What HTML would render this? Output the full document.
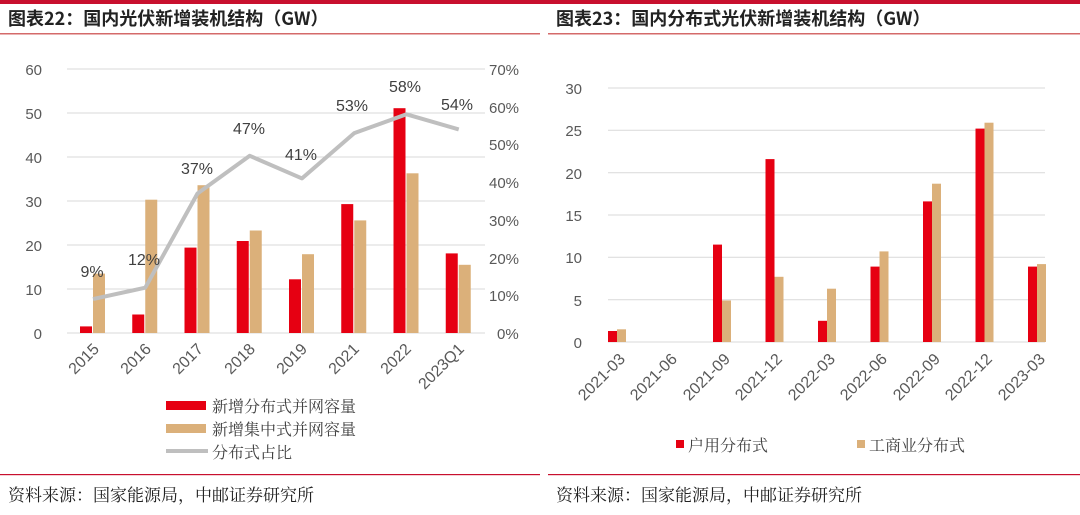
<!DOCTYPE html><html><head><meta charset="utf-8"><style>
body{margin:0;background:#fff;}
svg{display:block;font-family:"Liberation Sans","Noto Sans CJK SC",sans-serif;}
.cn{font-family:"Noto Serif CJK SC","Noto Sans CJK SC",serif;}
</style></head><body>
<svg width="1080" height="515" viewBox="0 0 1080 515">
<rect x="0" y="0" width="1080" height="4" fill="#c8102e"/>
<text x="8" y="25" font-size="18" font-weight="bold" fill="#222" font-family="'Noto Sans CJK SC',sans-serif">图表22：国内光伏新增装机结构（GW）</text>
<text x="556" y="25" font-size="18" font-weight="bold" fill="#222" font-family="'Noto Sans CJK SC',sans-serif">图表23：国内分布式光伏新增装机结构（GW）</text>
<rect x="0" y="33" width="540" height="1.5" fill="#d46a6a"/>
<rect x="548" y="33" width="532" height="1.5" fill="#d46a6a"/>
<rect x="0" y="474" width="540" height="1.2" fill="#c8102e"/>
<rect x="548" y="474" width="532" height="1.2" fill="#c8102e"/>
<text x="8" y="501" font-size="17" fill="#222" class="cn">资料来源：国家能源局，中邮证券研究所</text>
<text x="556" y="501" font-size="17" fill="#222" class="cn">资料来源：国家能源局，中邮证券研究所</text>

<g stroke="#d9d9d9" stroke-width="1">
<line x1="67" x2="485" y1="69" y2="69"/><line x1="67" x2="485" y1="113" y2="113"/><line x1="67" x2="485" y1="157" y2="157"/><line x1="67" x2="485" y1="201" y2="201"/><line x1="67" x2="485" y1="245" y2="245"/><line x1="67" x2="485" y1="289" y2="289"/><line x1="67" x2="485" y1="333" y2="333"/>
</g>
<g font-size="15" fill="#595959" text-anchor="end">
<text x="42" y="75">60</text><text x="42" y="119">50</text><text x="42" y="163">40</text><text x="42" y="207">30</text><text x="42" y="251">20</text><text x="42" y="295">10</text><text x="42" y="339">0</text>
</g>
<g font-size="15" fill="#595959">
<text x="489" y="75">70%</text><text x="489" y="113">60%</text><text x="489" y="150">50%</text><text x="489" y="188">40%</text><text x="489" y="226">30%</text><text x="489" y="264">20%</text><text x="489" y="301">10%</text><text x="497" y="339">0%</text>
</g>
<g fill="#e60012">
<rect x="80" y="326.4" width="12" height="6.6"/>
<rect x="132.25" y="314.5" width="12" height="18.5"/>
<rect x="184.5" y="247.6" width="12" height="85.4"/>
<rect x="236.75" y="241" width="12" height="92"/>
<rect x="289" y="279.3" width="12" height="53.7"/>
<rect x="341.25" y="204.1" width="12" height="128.9"/>
<rect x="393.5" y="108.2" width="12" height="224.8"/>
<rect x="445.75" y="253.4" width="12" height="79.6"/>
</g>
<g fill="#dbb07a">
<rect x="93" y="273.6" width="12" height="59.4"/>
<rect x="145.25" y="199.7" width="12" height="133.3"/>
<rect x="197.5" y="185.2" width="12" height="147.8"/>
<rect x="249.75" y="230.5" width="12" height="102.5"/>
<rect x="302" y="254.2" width="12" height="78.8"/>
<rect x="354.25" y="220.4" width="12" height="112.6"/>
<rect x="406.5" y="173.3" width="12" height="159.7"/>
<rect x="458.75" y="264.8" width="12" height="68.2"/>
</g>
<polyline points="93,299.1 145.25,287.7 197.5,193.5 249.75,155.8 302,178.4 354.25,133.1 406.5,114.3 458.75,129.4" fill="none" stroke="#bfbfbf" stroke-width="4" stroke-linejoin="round"/>
<g font-size="16" fill="#404040" text-anchor="middle">
<text x="92" y="277">9%</text><text x="144" y="265">12%</text><text x="197" y="174">37%</text><text x="249" y="134">47%</text><text x="301" y="160">41%</text><text x="352" y="111">53%</text><text x="405" y="92">58%</text><text x="457" y="110">54%</text>
</g>
<g font-size="16" fill="#595959" text-anchor="end">
<text transform="translate(100,350) rotate(-45)">2015</text>
<text transform="translate(152,350) rotate(-45)">2016</text>
<text transform="translate(204,350) rotate(-45)">2017</text>
<text transform="translate(256,350) rotate(-45)">2018</text>
<text transform="translate(308,350) rotate(-45)">2019</text>
<text transform="translate(360,350) rotate(-45)">2021</text>
<text transform="translate(412,350) rotate(-45)">2022</text>
<text transform="translate(465,350) rotate(-45)">2023Q1</text>
</g>
<rect x="166" y="401" width="40" height="9" fill="#e60012"/>
<rect x="166" y="424" width="40" height="9" fill="#dbb07a"/>
<rect x="166" y="449" width="42" height="4" fill="#bfbfbf"/>
<g font-size="16" fill="#404040" class="cn">
<text x="212" y="412">新增分布式并网容量</text>
<text x="212" y="435">新增集中式并网容量</text>
<text x="212" y="458">分布式占比</text>
</g>

<g stroke="#d9d9d9" stroke-width="1">
<line x1="608" x2="1045" y1="88" y2="88"/><line x1="608" x2="1045" y1="130.3" y2="130.3"/><line x1="608" x2="1045" y1="172.7" y2="172.7"/><line x1="608" x2="1045" y1="215" y2="215"/><line x1="608" x2="1045" y1="257.3" y2="257.3"/><line x1="608" x2="1045" y1="299.7" y2="299.7"/><line x1="608" x2="1045" y1="342" y2="342"/>
</g>
<g font-size="15" fill="#595959" text-anchor="end">
<text x="582" y="94">30</text><text x="582" y="136">25</text><text x="582" y="179">20</text><text x="582" y="221">15</text><text x="582" y="263">10</text><text x="582" y="306">5</text><text x="582" y="348">0</text>
</g>
<g fill="#e60012">
<rect x="608" y="331" width="9" height="11"/>
<rect x="713" y="244.6" width="9" height="97.4"/>
<rect x="765.5" y="159.1" width="9" height="182.9"/>
<rect x="818" y="320.8" width="9" height="21.2"/>
<rect x="870.5" y="266.6" width="9" height="75.4"/>
<rect x="923" y="201.4" width="9" height="140.6"/>
<rect x="975.5" y="128.6" width="9" height="213.4"/>
<rect x="1028" y="266.6" width="9" height="75.4"/>
</g>
<g fill="#dbb07a">
<rect x="617" y="329.3" width="9" height="12.7"/>
<rect x="722" y="300.5" width="9" height="41.5"/>
<rect x="774.5" y="276.8" width="9" height="65.2"/>
<rect x="827" y="288.7" width="9" height="53.3"/>
<rect x="879.5" y="251.4" width="9" height="90.6"/>
<rect x="932" y="183.7" width="9" height="158.3"/>
<rect x="984.5" y="122.7" width="9" height="219.3"/>
<rect x="1037" y="264.1" width="9" height="77.9"/>
</g>
<g font-size="16" fill="#595959" text-anchor="end">
<text transform="translate(626,360) rotate(-45)">2021-03</text>
<text transform="translate(678,360) rotate(-45)">2021-06</text>
<text transform="translate(731,360) rotate(-45)">2021-09</text>
<text transform="translate(783,360) rotate(-45)">2021-12</text>
<text transform="translate(836,360) rotate(-45)">2022-03</text>
<text transform="translate(888,360) rotate(-45)">2022-06</text>
<text transform="translate(941,360) rotate(-45)">2022-09</text>
<text transform="translate(993,360) rotate(-45)">2022-12</text>
<text transform="translate(1046,360) rotate(-45)">2023-03</text>
</g>
<rect x="676" y="440" width="8" height="8" fill="#e60012"/>
<rect x="857" y="440" width="8" height="8" fill="#dbb07a"/>
<g font-size="16" fill="#404040" class="cn">
<text x="688" y="451">户用分布式</text>
<text x="869" y="451">工商业分布式</text>
</g>
</svg>
</body></html>
